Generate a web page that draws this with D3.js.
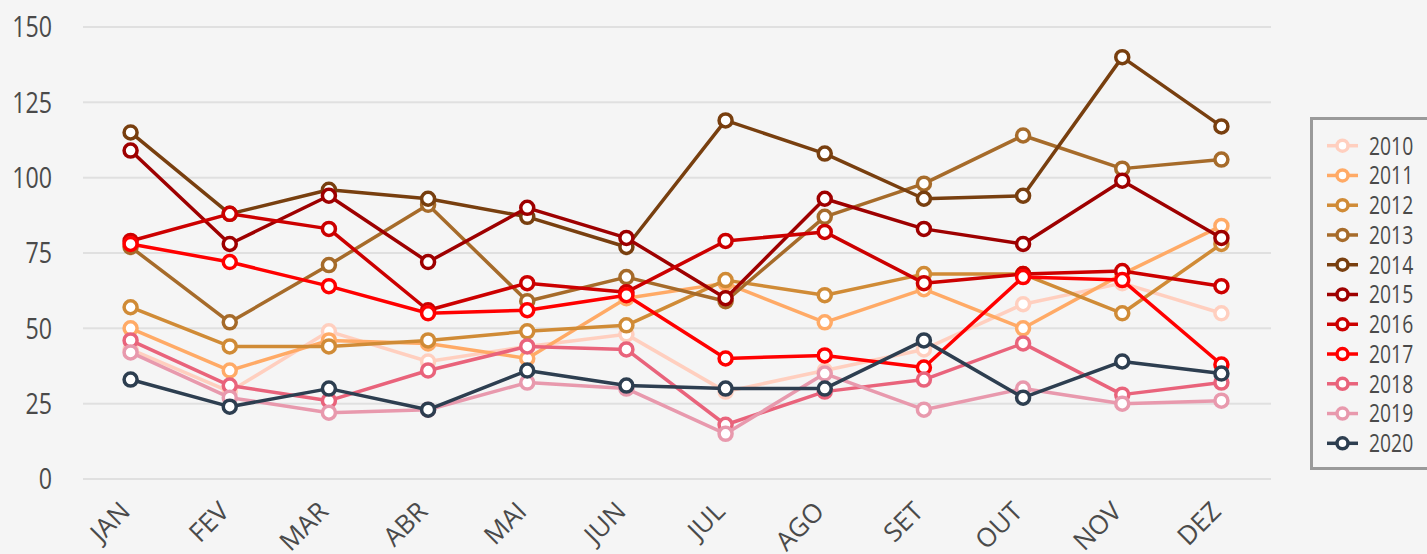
<!DOCTYPE html>
<html>
<head>
<meta charset="utf-8">
<script src="https://cdn.jsdelivr.net/npm/d3@7/dist/d3.min.js"></script>
<style>
  html, body { margin: 0; padding: 0; background: #f5f5f5; }
  svg { display: block; }
  text { font-family: "Open Sans", "Noto Sans", sans-serif; fill: #4a4a4a; }
</style>
</head>
<body>
<svg id="chart" width="1427" height="554"></svg>
<script>
const months = ["JAN","FEV","MAR","ABR","MAI","JUN","JUL","AGO","SET","OUT","NOV","DEZ"];
const years = ["2010","2011","2012","2013","2014","2015","2016","2017","2018","2019","2020"];
const yTicks = [0, 25, 50, 75, 100, 125, 150];
const colors = ["#ffcfbf","#ffaa66","#d08b36","#a66b2a","#783f0f","#9e0000","#cc0000","#ff0000","#e9637b","#e899ad","#2d3e50"];

const v2010 = [43, 29, 49, 39, 44, 48, 29, 36, 43, 58, 65, 55];
const v2011 = [50, 36, 46, 45, 40, 60, 65, 52, 63, 50, 68, 84];
const v2012 = [57, 44, 44, 46, 49, 51, 66, 61, 68, 68, 55, 78];
const v2013 = [77, 52, 71, 91, 59, 67, 59, 87, 98, 114, 103, 106];
const v2014 = [115, 88, 96, 93, 87, 77, 119, 108, 93, 94, 140, 117];
const v2015 = [109, 78, 94, 72, 90, 80, 60, 93, 83, 78, 99, 80];
const v2016 = [79, 88, 83, 56, 65, 62, 79, 82, 65, 68, 69, 64];
const v2017 = [78, 72, 64, 55, 56, 61, 40, 41, 37, 67, 66, 38];
const v2018 = [46, 31, 26, 36, 44, 43, 18, 29, 33, 45, 28, 32];
const v2019 = [42, 27, 22, 23, 32, 30, 15, 35, 23, 30, 25, 26];
const v2020 = [33, 24, 30, 23, 36, 31, 30, 30, 46, 27, 39, 35];

const seriesValues = [v2010, v2011, v2012, v2013, v2014, v2015, v2016, v2017, v2018, v2019, v2020];
const series = years.map((y, i) => ({ name: y, color: colors[i], values: seriesValues[i] }));

const svg = d3.select("#chart");

const x = d3.scalePoint().domain(months).range([81, 1271]).padding(0.5);
const y = d3.scaleLinear().domain([0, 150]).range([479, 27]);

// gridlines
const grid = svg.append("g");
grid.selectAll("line").data(yTicks).join("line")
  .attr("x1", 83).attr("x2", 1271)
  .attr("y1", d => y(d)).attr("y2", d => y(d))
  .attr("stroke", "#e0e0e0").attr("stroke-width", 2);

// y labels
const yl = svg.append("g");
yl.selectAll("g").data(yTicks).join("g")
  .attr("transform", d => `translate(52,${y(d)}) scale(0.8,1)`)
  .append("text")
  .attr("text-anchor", "end")
  .attr("dy", "0.36em")
  .attr("font-size", 29)
  .text(d => d);

// x labels
const xl = svg.append("g");
xl.selectAll("text").data(months).join("text")
  .attr("transform", d => `translate(${x(d) + 1},513) rotate(-45)`)
  .attr("text-anchor", "end")
  .attr("font-size", 26)
  .text(d => d);

// series
const line = d3.line().x((d, i) => x(months[i])).y(d => y(d));
series.forEach(s => {
  const g = svg.append("g");
  g.append("path").datum(s.values)
    .attr("d", line)
    .attr("fill", "none")
    .attr("stroke", s.color)
    .attr("stroke-width", 3.5)
    .attr("stroke-linejoin", "round");
  g.selectAll("circle").data(s.values).join("circle")
    .attr("cx", (d, i) => x(months[i]))
    .attr("cy", d => y(d))
    .attr("r", 6.5)
    .attr("fill", "#ffffff")
    .attr("stroke", s.color)
    .attr("stroke-width", 3.5);
});

// legend
const lg = svg.append("g");
lg.append("rect")
  .attr("x", 1311.5).attr("y", 118.5)
  .attr("width", 140).attr("height", 350)
  .attr("fill", "#f5f5f5")
  .attr("stroke", "#9a9a9a").attr("stroke-width", 3);
const items = lg.selectAll("g.item").data(series).join("g")
  .attr("class", "item")
  .attr("transform", (d, i) => `translate(0,${145.7 + i * 29.76})`);
items.append("line")
  .attr("x1", 1327).attr("x2", 1358)
  .attr("stroke", d => d.color).attr("stroke-width", 3.5);
items.append("circle")
  .attr("cx", 1342.5).attr("r", 5.5)
  .attr("fill", "#ffffff")
  .attr("stroke", d => d.color).attr("stroke-width", 3.5);
items.append("g")
  .attr("transform", "translate(1369,0) scale(0.84,1.08)")
  .append("text")
  .attr("dy", "0.36em")
  .attr("font-size", 23)
  .text(d => d.name);
</script>
</body>
</html>
